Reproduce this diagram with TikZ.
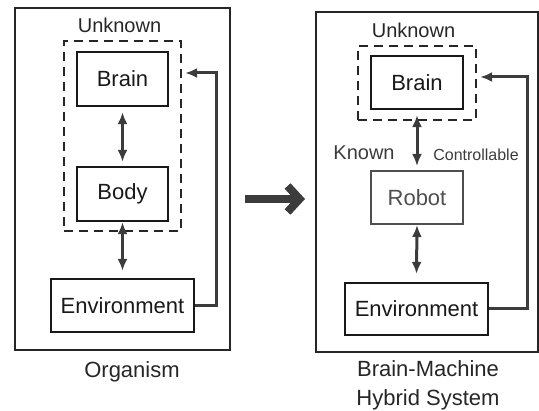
\documentclass[tikz,border=0pt]{standalone}
\usepackage{fontspec}
\setmainfont{Liberation Sans}
\usetikzlibrary{arrows.meta, positioning, calc}
\definecolor{linegray}{HTML}{3C3C3C}
\definecolor{robotgray}{HTML}{4E4E4E}

\begin{document}
\begin{tikzpicture}[x=1pt, y=-1pt]
		\tikzstyle{panel} = [rectangle, draw=black!85, line width=2pt, inner sep=0]
		\tikzstyle{block} = [rectangle, draw=black!90, line width=2.3pt, inner sep=0, minimum width=91pt, minimum height=54pt, font=\fontsize{22}{26}\selectfont, text=black!90]
		\tikzstyle{wide_block} = [block, minimum width=143pt, minimum height=53pt]
		\tikzstyle{robot_block} = [block, draw=robotgray, text=robotgray, line width=2pt]
		\tikzstyle{unknown_box} = [rectangle, draw=black!85, dash pattern=on 9pt off 6pt, line width=2.3pt, inner sep=0]
		\tikzstyle{note} = [inner sep=0, font=\fontsize{20}{24}\selectfont, text=black!85]
		\tikzstyle{small_note} = [inner sep=0, font=\fontsize{16}{19}\selectfont, text=linegray]
		\tikzstyle{caption_text} = [inner sep=0, align=center, font=\fontsize{22}{29}\selectfont, text=black!85]

		\tikzstyle{bydirec_line} = [{Latex[length=12pt,width=10pt]}-{Latex[length=12pt,width=10pt]}, line width=3pt, linegray]
		\tikzstyle{feedback_line} = [-{Latex[length=12pt,width=10pt]}, line width=3pt, linegray]
		\tikzstyle{big_arrow} = [-{Straight Barb[length=12pt,width=26pt]}, line width=8pt, linegray]

		\useasboundingbox (0,0) rectangle (539,411);

		% Organism
		\node[panel, minimum width=215pt, minimum height=342pt](organism) at (122.5,179){};
		\node[unknown_box, minimum width=117pt, minimum height=190pt](unknown_l) at (122.5,136){};
		\node[note](unknown_l_text) at (119.5,25){Unknown};
		\node[block](brain_l) at (122.5,79){Brain};
		\node[block](body_l) at (122.5,194){Body};
		\node[wide_block](env_l) at (122.5,305.5){Environment};
		\node[caption_text](organism_text) at (132,372){Organism};

		\draw[bydirec_line] ([yshift=-5pt]brain_l.south) -- ([yshift=4pt]body_l.north);
		\draw[bydirec_line] ([yshift=0pt]body_l.south) -- ([yshift=7pt]env_l.north);

		\coordinate (fb_l) at (216,73);
		\draw[feedback_line] (env_l.east) -- (env_l.east -| fb_l) |- ([xshift=3pt]unknown_l.east |- fb_l);

		% Arrow between the two panels
		\coordinate (arrow_start) at (245,199);
		\coordinate (arrow_end) at (305,199);
		\draw[big_arrow] (arrow_start) -- (arrow_end);

		% Brain-Machine Hybrid System
		\node[panel, minimum width=222pt, minimum height=340pt](hybrid) at (426.5,182){};
		\node[unknown_box, minimum width=118pt, minimum height=74pt](unknown_r) at (417,83){};
		\node[note](unknown_r_text) at (413.5,30){Unknown};
		\node[block, minimum width=92pt, minimum height=53pt](brain_r) at (417,82.5){Brain};
		\node[robot_block, minimum width=92pt, minimum height=53pt](robot) at (417,197.5){Robot};
		\node[wide_block, minimum height=52pt](env_r) at (416.5,309){Environment};
		\node[note, text=linegray](known_text) at (364,153){Known};
		\node[small_note](control_text) at (476,155){Controllable};
		\node[caption_text](hybrid_text) at (428,385){Brain-Machine\\Hybrid System};

		\draw[bydirec_line] ([yshift=-5pt]brain_r.south) -- ([yshift=4pt]robot.north);
		\draw[bydirec_line] ([yshift=0pt]robot.south) -- ([yshift=8pt]env_r.north);

		\coordinate (fb_r) at (527,77);
		\draw[feedback_line] (env_r.east) -- (env_r.east -| fb_r) |- ([xshift=3pt]unknown_r.east |- fb_r);

	\end{tikzpicture}
\end{document}
